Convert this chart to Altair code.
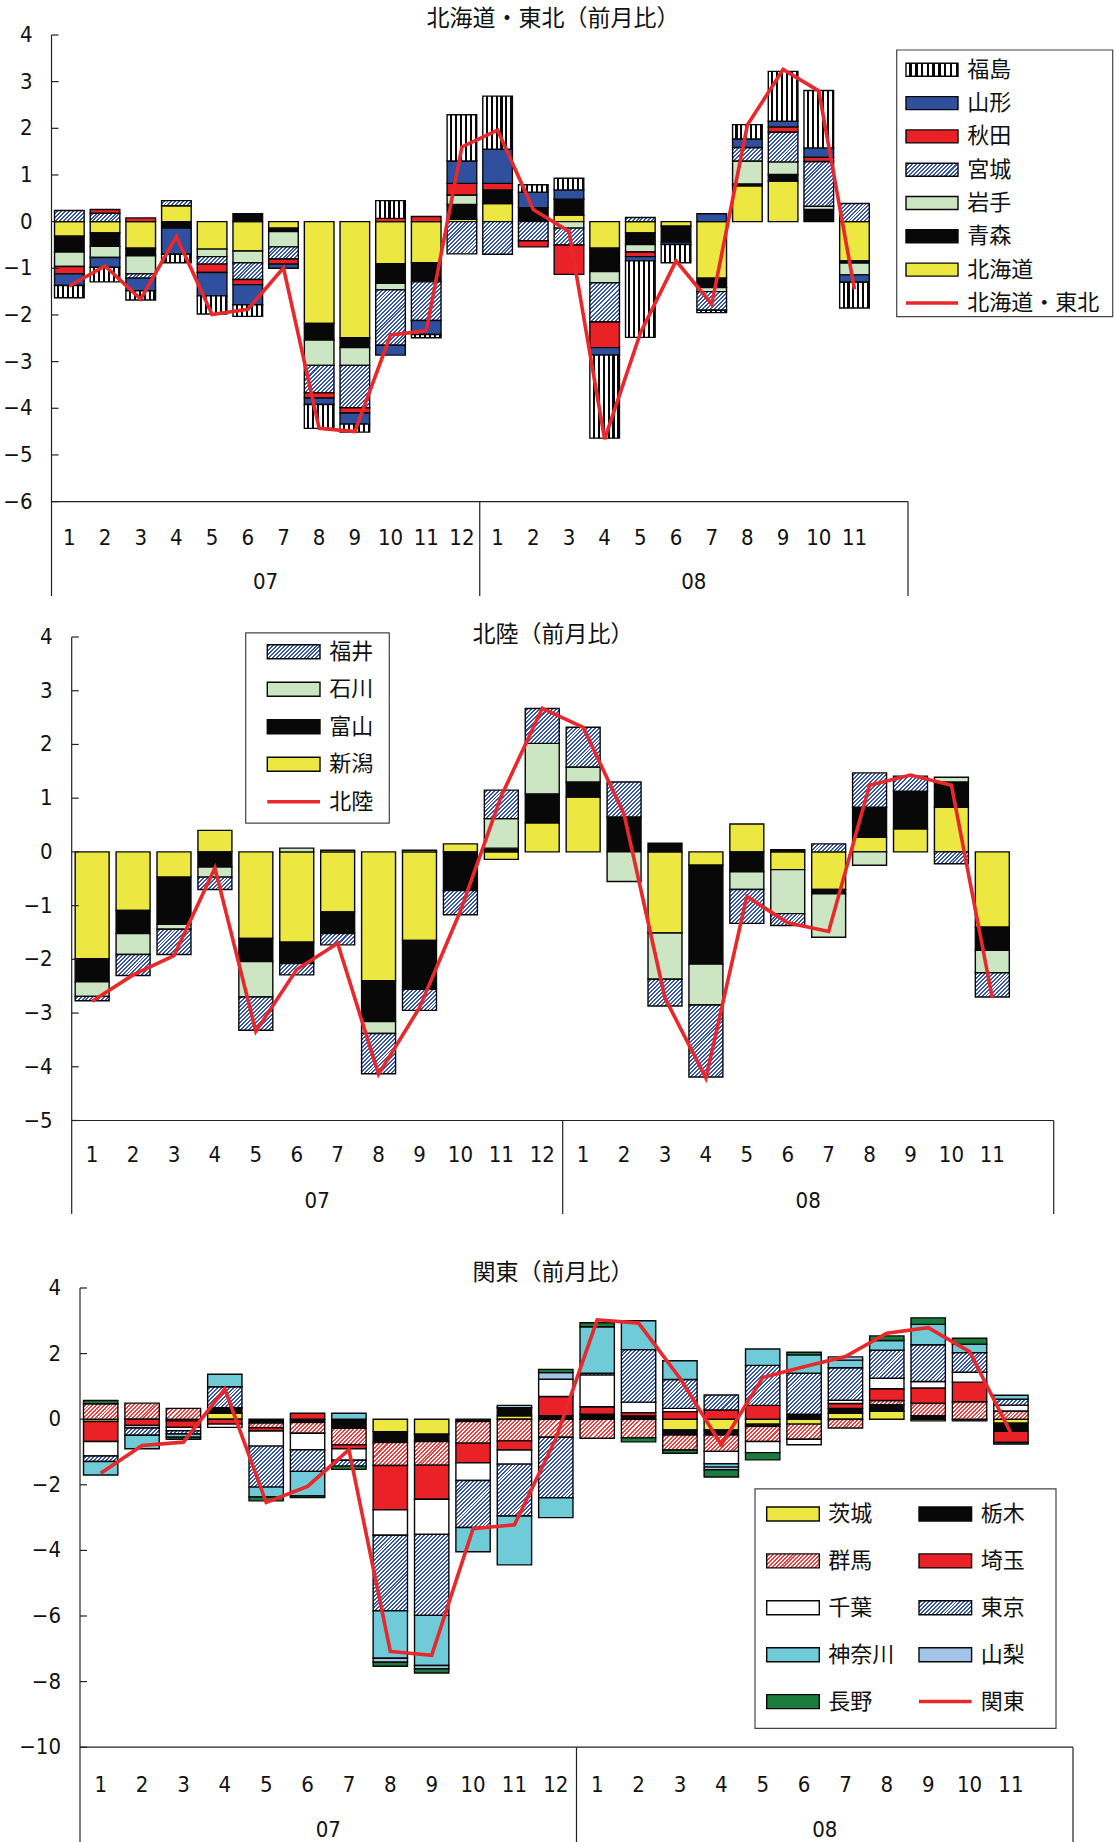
import math
import altair as alt
import pandas as pd

# ---------------------------------------------------------------- categories
YEARS = ["07", "08"]
MONTHS = [str(m) for m in range(1, 13)]
CATS = [f"{y}/{m}" for y in YEARS for m in MONTHS]
N_DATA = 23  # 07/1 .. 08/11

# ---------------------------------------------------------------- 北海道・東北
HKD_HOKKAIDO = [-0.31, -0.24, -0.57, 0.34, -0.59, -0.63, -0.14, -2.18, -2.49, -0.90, -0.88, 0.05,
                0.39, 0.00, 0.14, -0.57, -0.24, -0.10, -1.21, 0.77, 0.87, 0.00, -0.84]
HKD_AOMORI = [-0.34, -0.29, -0.16, -0.14, 0.00, 0.17, -0.07, -0.36, -0.21, -0.42, -0.41, 0.32,
              0.29, 0.30, 0.34, -0.50, -0.25, -0.34, -0.20, 0.04, 0.14, 0.26, -0.05]
HKD_IWATE = [-0.31, -0.24, -0.39, 0.00, -0.16, -0.25, -0.33, -0.54, -0.38, -0.14, 0.00, 0.20,
             0.00, 0.00, -0.14, -0.24, -0.16, 0.00, -0.09, 0.49, 0.27, 0.07, -0.25]
HKD_MIYAGI = [0.24, 0.18, -0.09, 0.11, -0.16, -0.36, -0.26, -0.59, -0.91, -1.19, -0.83, -0.69,
              -0.70, -0.41, -0.36, -0.84, 0.09, 0.00, -0.40, 0.29, 0.64, 0.96, 0.39]
HKD_AKITA = [-0.16, 0.08, 0.08, 0.00, -0.18, -0.11, -0.11, -0.11, -0.11, 0.07, 0.11, 0.25,
             0.14, -0.13, -0.63, -0.55, -0.10, 0.00, 0.00, 0.00, 0.11, 0.09, 0.00]
HKD_YAMAGATA = [-0.25, -0.21, -0.27, -0.56, -0.50, -0.43, -0.09, -0.14, -0.24, -0.21, -0.30, 0.48,
                0.73, 0.33, 0.20, -0.16, -0.09, -0.05, 0.17, 0.18, 0.12, 0.20, -0.16]
HKD_FUKUSHIMA = [-0.26, -0.31, -0.20, -0.18, -0.39, -0.25, 0.00, -0.51, -0.17, 0.38, -0.07, 0.99,
                 1.14, 0.16, 0.25, -1.78, -1.64, -0.39, -0.05, 0.31, 1.07, 1.23, -0.55]
HKD_TOTAL = [-1.38, -0.95, -1.66, -0.32, -1.99, -1.88, -0.99, -4.43, -4.50, -2.43, -2.34, 1.60,
             1.96, 0.26, -0.21, -4.66, -2.39, -0.84, -1.77, 2.07, 3.26, 2.80, -1.45]

# ---------------------------------------------------------------- 北陸
HKR_NIIGATA = [-1.99, -1.09, -0.47, 0.40, -1.61, -1.68, -1.12, -2.40, -1.65, 0.15, -0.14, 0.54,
               1.02, 0.00, -1.51, -0.25, 0.52, -0.33, -0.70, 0.27, 0.43, 0.83, -1.40]
HKR_TOYAMA = [-0.43, -0.43, -0.88, -0.28, -0.43, -0.40, -0.40, -0.76, -0.91, -0.72, 0.07, 0.54,
              0.28, 0.65, 0.16, -1.84, -0.37, 0.04, -0.08, 0.56, 0.70, 0.47, -0.43]
HKR_ISHIKAWA = [-0.27, -0.39, -0.09, -0.19, -0.66, 0.07, 0.03, -0.22, 0.03, 0.00, 0.55, 0.94,
                0.28, -0.55, -0.86, -0.76, -0.33, -0.82, -0.81, -0.25, 0.00, 0.09, -0.42]
HKR_FUKUI = [-0.08, -0.39, -0.47, -0.23, -0.62, -0.21, -0.21, -0.75, -0.39, -0.45, 0.53, 0.65,
             0.74, 0.65, -0.50, -1.34, -0.63, -0.22, 0.15, 0.64, 0.28, -0.22, -0.45]
HKR_TOTAL = [-2.78, -2.29, -1.93, -0.30, -3.34, -2.19, -1.70, -4.14, -2.90, -1.10, 1.04, 2.67,
             2.32, 0.70, -2.72, -4.21, -0.83, -1.32, -1.48, 1.24, 1.43, 1.24, -2.72]

# ---------------------------------------------------------------- 関東
KNT_IBARAKI = [-0.07, 0.00, -0.05, 0.18, 0.00, 0.00, 0.00, -0.38, -0.46, 0.00, 0.10, 0.00,
               0.00, 0.00, -0.33, -0.33, -0.15, -0.15, 0.18, 0.24, -0.05, 0.00, -0.12]
KNT_TOCHIGI = [0.00, 0.00, 0.00, 0.17, -0.12, -0.10, -0.28, -0.33, -0.22, -0.07, 0.25, 0.11,
               0.15, 0.10, -0.15, -0.15, -0.07, 0.15, 0.15, 0.20, 0.11, -0.05, -0.25]
KNT_GUNMA = [0.47, 0.49, 0.33, 0.00, -0.14, -0.33, -0.50, -0.70, -0.72, -0.66, -0.66, -0.55,
             -0.58, -0.57, -0.46, -0.50, -0.46, -0.46, -0.27, 0.13, 0.38, 0.53, 0.25]
KNT_SAITAMA = [-0.61, -0.19, -0.20, -0.15, -0.10, 0.18, -0.12, -1.35, -1.04, -0.60, -0.28, 0.58,
               0.23, 0.10, 0.23, 0.28, 0.42, 0.00, 0.15, 0.36, 0.46, 0.60, -0.34]
KNT_CHIBA = [-0.44, -0.08, -0.10, -0.10, -0.46, -0.50, -0.35, -0.78, -1.07, -0.54, -0.43, 0.53,
             0.97, 0.32, 0.10, -0.38, -0.34, -0.17, 0.10, 0.32, 0.20, 0.30, 0.18]
KNT_TOKYO = [-0.17, -0.22, -0.10, 0.64, -1.25, -0.66, -0.18, -2.30, -2.47, -1.43, -1.58, -1.85,
             0.05, 1.60, 0.88, 0.46, 1.22, 1.25, 0.99, 0.85, 1.12, 0.60, 0.18]
KNT_KANAGAWA = [-0.41, -0.41, -0.10, 0.38, -0.30, -0.75, 0.18, -1.45, -1.53, -0.74, -1.49, -0.60,
                1.42, 0.88, 0.57, -0.10, 0.50, 0.56, 0.23, 0.30, 0.62, 0.26, 0.12]
KNT_YAMANASHI = [0.00, 0.00, 0.00, 0.00, 0.00, 0.00, 0.00, -0.12, -0.10, 0.00, 0.07, 0.20,
                 0.00, 0.00, 0.00, -0.08, 0.00, 0.00, 0.10, 0.00, 0.00, 0.00, 0.00]
KNT_NAGANO = [0.10, 0.00, -0.06, 0.00, -0.12, -0.05, -0.10, -0.12, -0.13, 0.00, 0.00, 0.10,
              0.12, -0.12, -0.10, -0.22, -0.22, 0.08, 0.00, 0.14, 0.20, 0.18, -0.05]
KNT_TOTAL = [-1.65, -0.80, -0.70, 0.92, -2.54, -2.05, -0.93, -7.08, -7.20, -3.34, -3.22, -0.60,
             3.03, 2.93, 1.25, -0.78, 1.27, 1.60, 1.91, 2.62, 2.79, 2.06, -0.43]

# ---------------------------------------------------------------- styles
BLACK = "#080808"
YELLOW = "#EDE841"
LTGREEN = "#CCE6C4"
BLUE = "#2F4F9F"
RED = "#EA2227"
HATCH_BLUE = "#3556A8"
HATCH_RED = "#F03A3A"
CYAN = "#70CBD8"
LTBLUE = "#A2C4E7"
GREEN = "#1A7D3E"
WHITE = "#FFFFFF"
LINE_RED = "#E8282B"
AXIS = "#222222"
TEXT = "#111111"

FONT_CJK = "Noto Sans CJK JP"
FONT_NUM = ("DejaVu Sans Condensed, Roboto Condensed, Liberation Sans Narrow, "
            "Arial Narrow, Liberation Sans, sans-serif")
PAD_INNER = 0.17

STYLE = {
    "北海道": ("solid", YELLOW), "青森": ("solid", BLACK), "岩手": ("solid", LTGREEN),
    "宮城": ("hatch", HATCH_BLUE), "秋田": ("solid", RED), "山形": ("solid", BLUE),
    "福島": ("vstripe", BLACK),
    "新潟": ("solid", YELLOW), "富山": ("solid", BLACK), "石川": ("solid", LTGREEN),
    "福井": ("hatch", HATCH_BLUE),
    "茨城": ("solid", YELLOW), "栃木": ("solid", BLACK), "群馬": ("hatch", HATCH_RED),
    "埼玉": ("solid", RED), "千葉": ("solid", WHITE), "東京": ("hatch", HATCH_BLUE),
    "神奈川": ("solid", CYAN), "山梨": ("solid", LTBLUE), "長野": ("solid", GREEN),
}


def hatch(w, h, color, period=2.8):
    """Diagonal '/' hatching at 45 degrees for a w x h box (bbox-relative gradient)."""
    h = max(h, 1.0)
    k = (w + h) / (w * w + h * h)
    n = max(1, round((w + h) / math.sqrt(2) / period))
    stops = []
    for i in range(n):
        a, b, c = i / n, (i + 0.5) / n, (i + 1) / n
        stops += [{"offset": round(a, 5), "color": WHITE}, {"offset": round(b, 5), "color": WHITE},
                  {"offset": round(b, 5), "color": color}, {"offset": round(c, 5), "color": color}]
    return {"gradient": "linear", "x1": 0, "y1": 0, "x2": round(k * w, 5), "y2": round(k * h, 5),
            "stops": stops}


def vstripes(n, color, white_frac=0.58):
    stops = []
    for i in range(n):
        a, b, c = i / n, (i + white_frac) / n, (i + 1) / n
        stops += [{"offset": round(a, 5), "color": WHITE}, {"offset": round(b, 5), "color": WHITE},
                  {"offset": round(b, 5), "color": color}, {"offset": round(c, 5), "color": color}]
    return {"gradient": "linear", "x1": 0, "y1": 0, "x2": 1, "y2": 0, "stops": stops}


def fill_of(name, w, h, n_stripes):
    kind, color = STYLE[name]
    if kind == "hatch":
        return hatch(w, h, color)
    if kind == "vstripe":
        return vstripes(n_stripes, color)
    return color


def stack_frame(names, values):
    rows = []
    pos = [0.0] * N_DATA
    neg = [0.0] * N_DATA
    for s, vals in zip(names, values):
        for i, v in enumerate(vals):
            if abs(v) < 1e-9:
                continue
            if v > 0:
                y0 = pos[i]
                pos[i] += v
                y1 = pos[i]
            else:
                y0 = neg[i]
                neg[i] += v
                y1 = neg[i]
            rows.append({"cat": CATS[i], "s": s, "v": v, "y0": y0, "y1": y1, "k": len(rows)})
    return pd.DataFrame(rows)


def one(**kw):
    return pd.DataFrame({k: [v] for k, v in kw.items()} or {"a": [0]})


def fmt_tick(t):
    return ("\u2212" + str(abs(t))) if t < 0 else str(t)


def legend_layers(lg, total_name):
    x0, x1, y0, y1 = lg["box"]
    layers = [alt.Chart(one()).mark_rect(fill=WHITE, stroke="#444444", strokeWidth=1.2).encode(
        x=alt.value(x0), x2=alt.value(x1), y=alt.value(y0), y2=alt.value(y1))]
    items = [(n, False) for n in lg["items"]] + [(total_name, True)]
    sw, sh = lg["sym_w"], lg["sym_h"]
    for j, (name, is_line) in enumerate(items):
        r, c = divmod(j, lg["ncols"])
        cy = lg["row0"] + r * lg["dy"]
        sx = lg["sym_x"][c]
        if is_line:
            layers.append(alt.Chart(one()).mark_rule(color=LINE_RED, strokeWidth=3.5).encode(
                x=alt.value(sx), x2=alt.value(sx + sw), y=alt.value(cy)))
        else:
            layers.append(alt.Chart(one()).mark_rect(
                fill=fill_of(name, sw, sh, 9), stroke=BLACK, strokeWidth=1.4).encode(
                x=alt.value(sx), x2=alt.value(sx + sw),
                y=alt.value(cy - sh / 2), y2=alt.value(cy + sh / 2)))
        layers.append(alt.Chart(one(name=name)).mark_text(
            align="left", baseline="middle", font=FONT_CJK, fontSize=22, color=TEXT).encode(
            x=alt.value(lg["lab_x"][c]), y=alt.value(cy), text="name:N"))
    return layers


def panel(cfg):
    L, R, h = cfg["left"], cfg["right"], cfg["height"]
    lo, hi = cfg["domain"]
    ppu = h / (hi - lo)
    bw = (R - L) / len(CATS) * (1 - PAD_INNER)
    xs = alt.Scale(domain=CATS, range=[L, R], paddingInner=PAD_INNER, paddingOuter=PAD_INNER / 2)
    ys = alt.Scale(domain=[lo, hi], nice=False, zero=False)

    df = stack_frame(cfg["names"], cfg["values"])
    conds = []
    for s in cfg["names"]:
        kind, color = STYLE[s]
        if kind == "hatch":
            for _, r in df[df.s == s].iterrows():
                conds.append({"test": f"datum.k === {int(r.k)}",
                              "value": hatch(bw, abs(r.v) * ppu, color)})
        else:
            conds.append({"test": f"datum.s === '{s}'", "value": fill_of(s, bw, 0, 6)})

    bars = alt.Chart(df).mark_bar(stroke=BLACK, strokeWidth=1.4).encode(
        x=alt.X("cat:N", scale=xs, axis=None),
        y=alt.Y("y0:Q", scale=ys, axis=None),
        y2="y1:Q",
        fill=alt.FillValue(value=WHITE, condition=conds),
    )

    line_df = pd.DataFrame({"cat": CATS[:N_DATA], "v": cfg["total"], "i": range(N_DATA)})
    line = alt.Chart(line_df).mark_line(color=LINE_RED, strokeWidth=3.6).encode(
        x=alt.X("cat:N", scale=xs, axis=None),
        y=alt.Y("v:Q", scale=ys, axis=None),
        order="i:Q",
    )

    sep = cfg["sep"]
    ticks = list(range(lo, hi + 1, cfg["step"]))
    tk = pd.DataFrame({"t": ticks, "lab": [fmt_tick(t) for t in ticks]})
    y_line = alt.Chart(one()).mark_rule(color=AXIS, strokeWidth=1.2).encode(
        x=alt.value(L), y=alt.value(0), y2=alt.value(h + sep))
    y_ticks = alt.Chart(tk).mark_rule(color=AXIS, strokeWidth=1.2).encode(
        y=alt.Y("t:Q", scale=ys, axis=None), x=alt.value(L), x2=alt.value(L + 7))
    y_labels = alt.Chart(tk).mark_text(
        align="right", baseline="middle", font=FONT_NUM, fontSize=22, color=TEXT).encode(
        y=alt.Y("t:Q", scale=ys, axis=None), x=alt.value(L - 19), text="lab:N")
    x_line = alt.Chart(one()).mark_rule(color=AXIS, strokeWidth=1.2).encode(
        x=alt.value(L), x2=alt.value(R), y=alt.value(h))
    m_df = pd.DataFrame({"cat": CATS[:N_DATA], "lab": [c.split("/")[1] for c in CATS[:N_DATA]]})
    m_labels = alt.Chart(m_df).mark_text(
        align="center", baseline="middle", font=FONT_NUM, fontSize=22, color=TEXT).encode(
        x=alt.X("cat:N", scale=xs, axis=None), y=alt.value(h + cfg["month_y"]), text="lab:N")

    heading = alt.Chart(one(t=cfg["title"])).mark_text(
        align="center", baseline="middle", font=FONT_CJK, fontSize=23, color=TEXT).encode(
        x=alt.value(553), y=alt.value(cfg["title_y"]), text="t:N")

    extent = alt.Chart(one()).mark_rule(opacity=0).encode(
        x=alt.value(0), y=alt.value(-cfg["above"]), y2=alt.value(h + cfg["below"]))

    main = alt.layer(bars, line, y_line, y_ticks, y_labels, x_line, m_labels,
                     *legend_layers(cfg["legend"], cfg["total_name"]), heading, extent)

    nm = len(MONTHS)
    xq = alt.Scale(domain=[0, len(CATS)], range=[L, R], nice=False, zero=False)
    b_df = pd.DataFrame({"b": [(i + 1) * nm for i in range(len(YEARS))]})
    yl_df = pd.DataFrame({"m": [i * nm + nm / 2 for i in range(len(YEARS))], "lab": YEARS})
    seps = alt.Chart(b_df).mark_rule(color=AXIS, strokeWidth=1.2).encode(
        x=alt.X("b:Q", scale=xq, axis=None), y=alt.value(h), y2=alt.value(h + sep))
    y_names = alt.Chart(yl_df).mark_text(
        align="center", baseline="middle", font=FONT_NUM, fontSize=22, color=TEXT).encode(
        x=alt.X("m:Q", scale=xq, axis=None), y=alt.value(h + cfg["year_y"]), text="lab:N")
    years = alt.layer(seps, y_names)

    return alt.layer(main, years).resolve_scale(x="independent").properties(width=1116, height=h)


P1 = dict(
    title="北海道・東北（前月比）", total_name="北海道・東北",
    names=["北海道", "青森", "岩手", "宮城", "秋田", "山形", "福島"],
    values=[HKD_HOKKAIDO, HKD_AOMORI, HKD_IWATE, HKD_MIYAGI, HKD_AKITA, HKD_YAMAGATA, HKD_FUKUSHIMA],
    total=HKD_TOTAL, left=51.5, right=908, height=466.6, domain=(-6, 4), step=1,
    sep=94.4, month_y=36.4, year_y=80, title_y=-16.2, above=35, below=97,
    legend=dict(items=["福島", "山形", "秋田", "宮城", "岩手", "青森", "北海道"], ncols=1,
                box=(896.7, 1112.7, 15, 281.7), sym_x=[906], lab_x=[967.3],
                row0=34.8, dy=33.3, sym_w=52, sym_h=13),
)
P2 = dict(
    title="北陸（前月比）", total_name="北陸",
    names=["新潟", "富山", "石川", "福井"],
    values=[HKR_NIIGATA, HKR_TOYAMA, HKR_ISHIKAWA, HKR_FUKUI],
    total=HKR_TOTAL, left=71.7, right=1053.7, height=483.5, domain=(-5, 4), step=1,
    sep=93.5, month_y=34.7, year_y=80.5, title_y=-2.2, above=37.9, below=97,
    legend=dict(items=["福井", "石川", "富山", "新潟"], ncols=1,
                box=(245.7, 389.3, -4.2, 186.2), sym_x=[267.3], lab_x=[329.3],
                row0=14.7, dy=37.5, sym_w=52.7, sym_h=14),
)
P3 = dict(
    title="関東（前月比）", total_name="関東",
    names=["茨城", "栃木", "群馬", "埼玉", "千葉", "東京", "神奈川", "山梨", "長野"],
    values=[KNT_IBARAKI, KNT_TOCHIGI, KNT_GUNMA, KNT_SAITAMA, KNT_CHIBA, KNT_TOKYO,
            KNT_KANAGAWA, KNT_YAMANASHI, KNT_NAGANO],
    total=KNT_TOTAL, left=80, right=1073, height=459.2, domain=(-10, 4), step=2,
    sep=96.3, month_y=37.3, year_y=82.3, title_y=-15.5, above=69.6, below=96.3,
    legend=dict(items=["茨城", "栃木", "群馬", "埼玉", "千葉", "東京", "神奈川", "山梨", "長野"],
                ncols=2, box=(755, 1056, 200.8, 440.3), sym_x=[766.7, 919], lab_x=[828.3, 980.7],
                row0=226, dy=46.9, sym_w=52.6, sym_h=14),
)

chart = alt.vconcat(panel(P1), panel(P2), panel(P3), spacing=0).properties(
    padding=0, background="white").configure_view(stroke=None)

chart.save("out.html", embed_options={"renderer": "svg", "actions": False})
